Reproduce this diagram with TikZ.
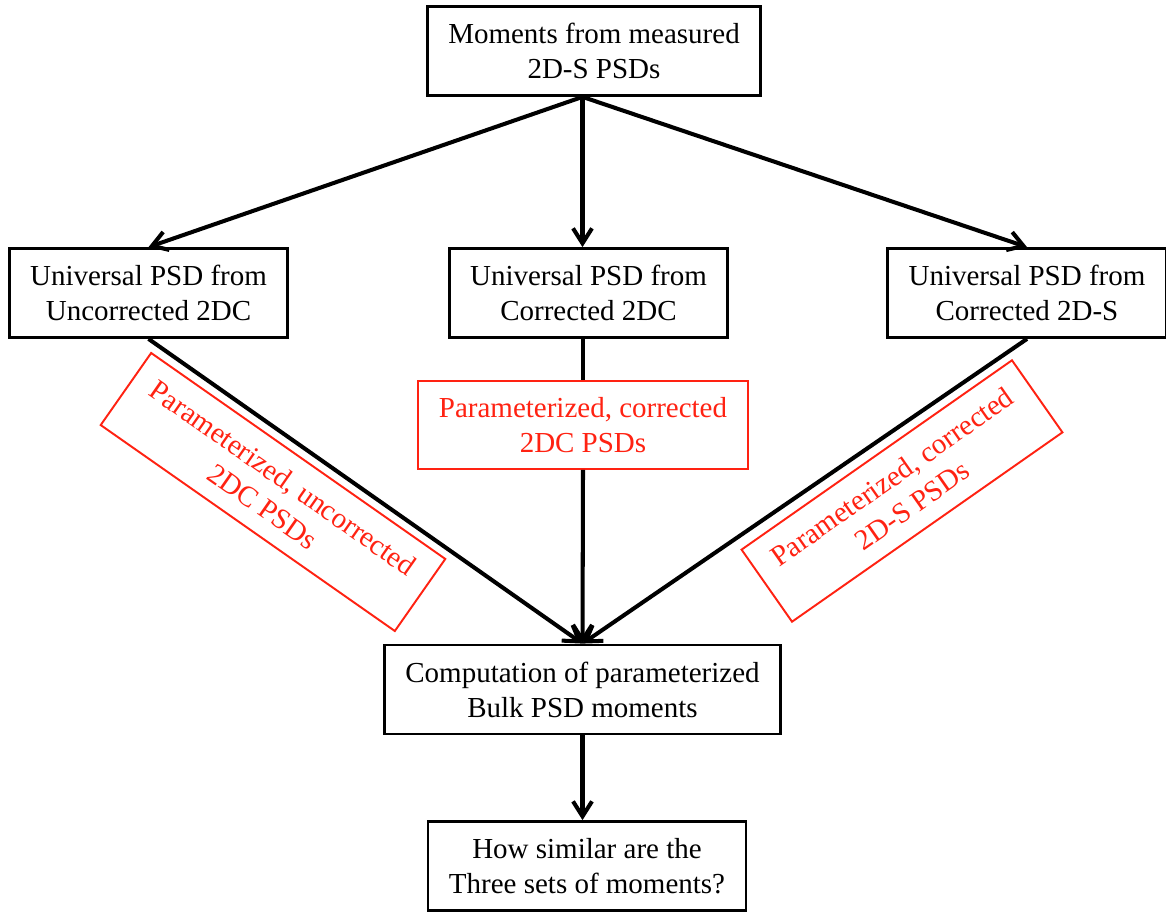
\documentclass[tikz,border=0pt]{standalone}
\usepackage{fontspec}
\setmainfont{Liberation Serif}
\usetikzlibrary{arrows.meta}
\definecolor{ink}{HTML}{000000}
\definecolor{psdred}{HTML}{FF2212}
\tikzset{
  box/.style={
    draw=ink,
    fill=white,
    line width=1.6pt,
    align=center,
    inner xsep=0.42cm,
    minimum height=1.78cm,
    font=\fontsize{16.5}{19.9}\selectfont
  },
  redbox/.style={
    box,
    draw=psdred,
    text=psdred,
    line width=1.1pt,
    minimum height=1.76cm
  },
  flow/.style={
    -{Straight Barb[length=3mm,width=3.8mm]},
    line width=2.3pt,
    draw=ink
  },
  link/.style={
    line width=2.3pt,
    draw=ink
  }
}

\begin{document}
\begin{tikzpicture}[x=0.02cm,y=-0.02cm]
  \useasboundingbox (0,0) rectangle (1166,912);

  % Source and the three universal PSDs.
  \node[box] (top) at (594,51) {Moments from measured\\2D-S PSDs};
  \node[box] (left) at (148.5,293) {Universal PSD from\\Uncorrected 2DC};
  \node[box] (mid) at (588.5,293) {Universal PSD from\\Corrected 2DC};
  \node[box] (right) at (1027,293) {Universal PSD from\\Corrected 2D-S};

  % Parameterized PSDs.
  \node[redbox] (redmid) at (583,425)
    {Parameterized, corrected\\2DC PSDs};
  \node[redbox, rotate=-35] (redleft) at (273,492)
    {Parameterized, uncorrected\\2DC PSDs};
  \node[redbox, rotate=35] (redright) at (902,491)
    {Parameterized, corrected\\2D-S PSDs};

  % Moments and comparison.
  \node[box] (comp) at (582.5,689.5)
    {Computation of parameterized\\Bulk PSD moments};
  \node[box] (last) at (587,866)
    {How similar are the\\Three sets of moments?};

  % Connectors.
  \coordinate (fork) at (top.south -| comp.north);
  \draw[flow] (fork) -- (left.north);
  \draw[flow] (fork) -- (fork |- mid.north);
  \draw[flow] (fork) -- (right.north);
  \draw[flow] (left.south) -- (comp.north);
  \draw[flow] (right.south) -- (comp.north);
  \draw[link] (mid.south -| redmid.north) -- (redmid.north);
  \draw[flow] (redmid.south) -- (comp.north);
  \draw[flow] (comp.south) -- (comp.south |- last.north);
\end{tikzpicture}
\end{document}
